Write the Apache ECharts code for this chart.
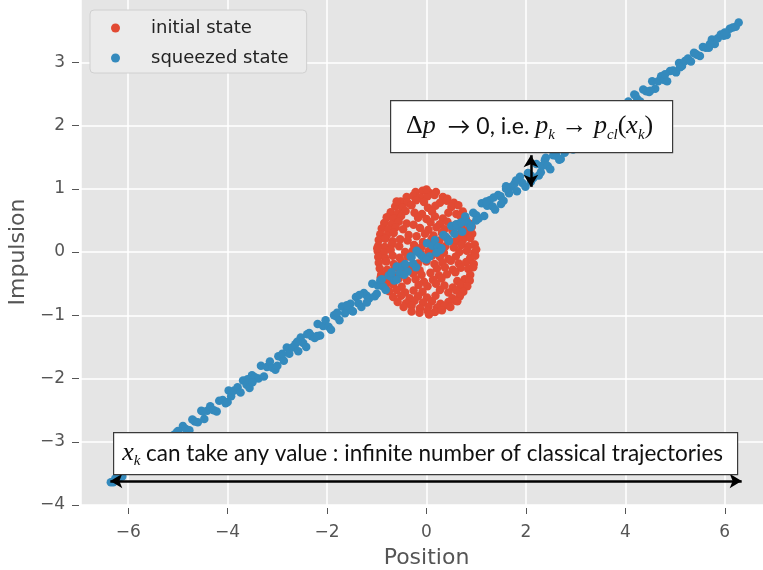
<!DOCTYPE html>
<html>
<head>
    <meta charset="utf-8" />
    <title>squeezed state</title>
    <script src="https://cdn.jsdelivr.net/npm/echarts@6.0.0/dist/echarts.min.js"></script>
    <style>
        html, body { margin: 0; padding: 0; background: #fff; }
        #main { width: 763px; height: 570px; }
    </style>
</head>
<body>
<div id="main"></div>
<script>
    // tick labels
    var xTicks = [-6, -4, -2, 0, 2, 4, 6];
    var yTicks = [-4, -3, -2, -1, 0, 1, 2, 3];

    // initial state: points in the unit disc
    var initialState = [
        [-0.22,0.95],[-0.08,0.97],[0.05,0.94],[0.19,0.95],
        [-0.40,0.87],[-0.27,0.89],[-0.12,0.86],[0.02,0.88],[0.16,0.90],[0.33,0.87],[0.42,0.84],
        [-0.52,0.80],[-0.38,0.78],[-0.21,0.82],[-0.05,0.79],[0.27,0.78],[0.41,0.81],[0.55,0.78],
        [-0.63,0.72],[-0.49,0.70],[-0.30,0.74],[0.03,0.70],[0.18,0.73],[0.50,0.71],[0.64,0.74],
        [-0.72,0.63],[-0.58,0.61],[-0.42,0.65],[-0.24,0.62],[-0.09,0.60],[0.11,0.64],[0.44,0.62],[0.60,0.60],[0.73,0.64],
        [-0.80,0.55],[-0.66,0.53],[-0.51,0.57],[-0.17,0.54],[0.00,0.52],[0.17,0.56],[0.33,0.53],[0.68,0.57],[0.79,0.52],
        [-0.85,0.46],[-0.71,0.44],[-0.56,0.48],[-0.40,0.45],[-0.26,0.43],[0.08,0.47],[0.27,0.44],[0.42,0.48],[0.59,0.43],[0.74,0.46],[0.86,0.45],
        [-0.90,0.37],[-0.77,0.35],[-0.62,0.39],[-0.47,0.36],[-0.13,0.38],[0.04,0.35],[0.20,0.39],[0.36,0.36],[0.52,0.34],[0.70,0.38],[0.85,0.36],
        [-0.93,0.28],[-0.80,0.26],[-0.66,0.30],[-0.36,0.27],[-0.20,0.25],[-0.03,0.29],[0.14,0.26],[0.31,0.30],[0.63,0.27],[0.79,0.25],[0.92,0.29],
        [-0.96,0.19],[-0.83,0.21],[-0.68,0.17],[-0.53,0.20],[-0.38,0.18],[-0.07,0.16],[0.10,0.20],[0.26,0.18],[0.42,0.21],[0.58,0.17],[0.73,0.19],[0.88,0.22],
        [-0.97,0.10],[-0.84,0.08],[-0.70,0.12],[-0.55,0.09],[-0.25,0.11],[-0.10,0.08],[0.07,0.12],[0.38,0.09],[0.55,0.07],[0.70,0.11],[0.84,0.09],[0.97,0.12],
        [-0.98,0.01],[-0.86,-0.01],[-0.72,0.03],[-0.43,0.00],[-0.28,0.02],[-0.12,-0.02],[0.04,0.01],[0.19,0.03],[0.35,-0.01],[0.66,0.00],[0.81,0.02],[0.96,-0.01],
        [-0.97,-0.08],[-0.83,-0.10],[-0.68,-0.06],[-0.54,-0.09],[-0.38,-0.07],[-0.05,-0.10],[0.11,-0.06],[0.27,-0.08],[0.44,-0.11],[0.59,-0.07],[0.88,-0.09],[0.98,-0.06],
        [-0.96,-0.17],[-0.81,-0.15],[-0.66,-0.19],[-0.50,-0.16],[-0.17,-0.18],[0.00,-0.15],[0.16,-0.19],[0.32,-0.17],[0.49,-0.14],[0.65,-0.18],[0.80,-0.16],[0.95,-0.19],
        [-0.94,-0.26],[-0.79,-0.28],[-0.63,-0.24],[-0.48,-0.27],[-0.31,-0.25],[-0.14,-0.29],[0.21,-0.26],[0.37,-0.24],[0.53,-0.28],[0.69,-0.25],[0.84,-0.27],[0.94,-0.24],
        [-0.91,-0.35],[-0.76,-0.33],[-0.60,-0.37],[-0.27,-0.34],[-0.10,-0.36],[0.08,-0.33],[0.25,-0.37],[0.41,-0.35],[0.58,-0.32],[0.88,-0.36],
        [-0.87,-0.44],[-0.72,-0.46],[-0.56,-0.42],[-0.39,-0.45],[-0.22,-0.43],[-0.05,-0.47],[0.13,-0.44],[0.30,-0.42],[0.62,-0.46],[0.77,-0.43],[0.87,-0.45],
        [-0.82,-0.53],[-0.67,-0.51],[-0.50,-0.55],[-0.16,-0.52],[0.02,-0.54],[0.19,-0.50],[0.36,-0.53],[0.53,-0.56],[0.69,-0.52],[0.82,-0.54],
        [-0.75,-0.62],[-0.60,-0.60],[-0.43,-0.64],[-0.26,-0.61],[-0.08,-0.63],[0.27,-0.60],[0.44,-0.64],[0.60,-0.61],[0.74,-0.63],
        [-0.67,-0.71],[-0.51,-0.69],[-0.34,-0.73],[-0.17,-0.70],[0.01,-0.72],[0.18,-0.69],[0.52,-0.73],[0.67,-0.70],
        [-0.58,-0.79],[-0.41,-0.81],[-0.24,-0.77],[-0.07,-0.80],[0.11,-0.78],[0.28,-0.82],[0.44,-0.79],[0.58,-0.77],
        [-0.46,-0.87],[-0.30,-0.85],[-0.13,-0.89],[0.04,-0.86],[0.21,-0.88],[0.36,-0.85],[0.48,-0.87],
        [-0.30,-0.94],[-0.14,-0.96],[0.02,-0.93],[0.17,-0.95],[0.31,-0.92],
        [-0.99,0.06],[1.00,0.04],[-0.92,-0.40],[0.91,0.40],[-0.60,0.80],[0.62,-0.78],[0.00,0.99],[0.05,-0.99]
    ];

    // squeezed state: thin band along the diagonal
    var squeezedState = [
        [-6.35,-3.64],[-6.30,-3.64],[-6.26,-3.58],[-6.18,-3.56],[-6.12,-3.55],[-6.05,-3.45],[-5.97,-3.43],
        [-5.90,-3.42],[-5.84,-3.31],[-5.76,-3.36],[-5.70,-3.26],[-5.63,-3.19],[-5.55,-3.22],[-5.49,-3.22],
        [-5.42,-3.08],[-5.36,-3.07],[-5.28,-3.08],[-5.21,-2.93],[-5.15,-2.98],[-5.08,-2.89],[-5.02,-2.85],
        [-4.95,-2.90],[-4.90,-2.75],[-4.84,-2.80],[-4.77,-2.82],[-4.71,-2.65],[-4.66,-2.68],[-4.60,-2.69],
        [-4.53,-2.51],[-4.47,-2.64],[-4.41,-2.51],[-4.35,-2.44],[-4.28,-2.50],[-4.22,-2.52],[-4.17,-2.35],
        [-4.10,-2.34],[-4.04,-2.39],[-3.98,-2.19],[-3.93,-2.28],[-3.87,-2.19],[-3.80,-2.14],[-3.74,-2.22],
        [-3.69,-2.03],[-3.62,-2.10],[-3.56,-2.15],[-3.51,-1.95],[-3.45,-1.98],[-3.38,-2.00],[-3.33,-1.80],
        [-3.27,-1.97],[-3.21,-1.82],[-3.15,-1.73],[-3.10,-1.83],[-3.04,-1.86],[-2.98,-1.65],[-2.92,-1.66],
        [-2.87,-1.72],[-2.81,-1.51],[-2.76,-1.61],[-2.70,-1.51],[-2.64,-1.46],[-2.58,-1.57],[-2.53,-1.35],
        [-2.48,-1.44],[-2.42,-1.50],[-2.36,-1.28],[-2.31,-1.33],[-2.25,-1.36],[-2.19,-1.14],[-2.14,-1.32],
        [-2.08,-1.17],[-2.03,-1.08],[-1.97,-1.18],[-1.92,-1.23],[-1.86,-1.00],[-1.81,-1.02],[-1.75,-1.08],
        [-1.70,-0.86],[-1.64,-0.97],[-1.59,-0.87],[-1.53,-0.82],[-1.48,-0.94],[-1.42,-0.71],[-1.37,-0.81],
        [-1.31,-0.87],[-1.26,-0.65],[-1.20,-0.69],[-1.15,-0.73],[-1.09,-0.50],[-1.04,-0.70],[-0.98,-0.53],
        [-0.93,-0.45],[-0.87,-0.55],[-0.82,-0.60],[-0.76,-0.37],[-0.71,-0.39],[-0.65,-0.45],[-0.60,-0.23],
        [-0.54,-0.34],[-0.49,-0.23],[-0.43,-0.19],[-0.38,-0.31],[-0.32,-0.07],[-0.27,-0.18],[-0.21,-0.24],
        [-0.16,-0.01],[-0.10,-0.06],[-0.05,-0.10],[0.01,0.14],[0.06,-0.07],[0.12,0.10],[0.17,0.19],
        [0.23,0.08],[0.28,0.03],[0.34,0.27],[0.39,0.24],[0.45,0.18],[0.50,0.41],[0.56,0.29],[0.61,0.40],
        [0.67,0.45],[0.72,0.32],[0.78,0.56],[0.83,0.46],[0.89,0.39],[0.94,0.62],[1.00,0.58],[1.05,0.53],
        [1.11,0.77],[1.16,0.57],[1.22,0.73],[1.27,0.82],[1.33,0.72],[1.38,0.67],[1.44,0.90],[1.49,0.88],
        [1.55,0.81],[1.60,1.04],[1.66,0.93],[1.71,1.03],[1.77,1.08],[1.82,0.96],[1.88,1.19],[1.93,1.09],
        [1.99,1.03],[2.04,1.25],[2.10,1.21],[2.15,1.17],[2.21,1.39],[2.26,1.21],[2.32,1.36],[2.38,1.45],
        [2.44,1.36],[2.49,1.31],[2.55,1.53],[2.61,1.52],[2.67,1.46],[2.72,1.67],[2.78,1.57],[2.84,1.68],
        [2.90,1.72],[2.95,1.62],[3.01,1.83],[3.07,1.75],[3.13,1.70],[3.18,1.90],[3.24,1.86],[3.30,1.84],
        [3.36,2.04],[3.41,1.88],[3.47,2.02],[3.53,2.10],[3.59,2.02],[3.65,1.99],[3.71,2.19],[3.76,2.18],
        [3.82,2.13],[3.88,2.33],[3.94,2.24],[4.00,2.34],[4.06,2.38],[4.12,2.30],[4.18,2.49],[4.24,2.42],
        [4.30,2.38],[4.36,2.57],[4.42,2.54],[4.48,2.53],[4.54,2.70],[4.60,2.58],[4.66,2.70],[4.72,2.78],
        [4.78,2.72],[4.84,2.70],[4.90,2.86],[4.96,2.87],[5.02,2.84],[5.08,2.99],[5.14,2.94],[5.20,3.02],
        [5.26,3.06],[5.32,3.01],[5.38,3.15],[5.44,3.12],[5.50,3.10],[5.56,3.24],[5.62,3.23],[5.68,3.23],
        [5.74,3.36],[5.80,3.29],[5.86,3.38],[5.92,3.44],[5.98,3.42],[6.04,3.43],[6.10,3.53],[6.16,3.55],
        [6.22,3.56],[6.28,3.63],
        [-5.60,-3.24],[-5.00,-2.83],[-4.50,-2.52],[-4.00,-2.37],[-3.60,-2.01],[-3.00,-1.80],[-2.60,-1.42],
        [-2.20,-1.33],[-1.80,-0.96],[-1.50,-0.93],[-1.20,-0.80],[-0.90,-0.43],[-0.60,-0.44],[-0.30,-0.08],
        [0.00,-0.12],[0.30,0.06],[0.60,0.44],[0.90,0.41],[1.20,0.80],[1.50,0.76],[1.80,1.13],[2.10,1.11],
        [2.40,1.49],[2.70,1.47],[3.00,1.81],[3.30,1.81],[3.60,2.15],[3.90,2.16],[4.20,2.48],[4.50,2.55],
        [4.80,2.81],[5.10,2.92],[5.40,3.14],[5.70,3.29],[6.00,3.47],[-0.45,-0.36],[0.45,0.17],[1.35,0.86],
        [-1.35,-0.68],[2.60,1.58],[-2.90,-1.61],[3.45,1.95],[-3.50,-2.06],
        [-0.20,0.02],[0.20,-0.01],[-0.70,-0.32],[0.70,0.47],[-1.00,-0.66],[1.00,0.50],[-1.60,-0.84],
        [1.60,1.00],[-2.40,-1.30],[2.30,1.26]
    ];

    // double arrows (data coordinates)
    var arrowDp = [[2.10, 1.53], [2.10, 1.03]];
    var arrowX = [[-6.36, -3.62], [6.34, -3.62]];

    var myChart = echarts.init(document.getElementById('main'));

    function minus(v) {
        return String(v).replace('-', '\u2212');
    }

    var tickColor = '#555555';

    var option = {
        animation: false,
        backgroundColor: '#ffffff',
        grid: {
            left: 81,
            right: -9,
            top: -1,
            bottom: 65,
            outerBoundsMode: 'none',
            show: true,
            backgroundColor: '#e5e5e5',
            borderWidth: 0
        },
        legend: {
            orient: 'vertical',
            left: 90,
            top: 10,
            data: ['initial state', 'squeezed state'],
            icon: 'circle',
            itemWidth: 9,
            itemHeight: 9,
            itemGap: 10,
            padding: [8, 18, 5, 21],
            backgroundColor: '#ebebeb',
            borderColor: '#d0d0d0',
            borderWidth: 1,
            borderRadius: 4,
            textStyle: {
                fontFamily: 'DejaVu Sans',
                fontSize: 18,
                lineHeight: 20,
                color: '#222',
                padding: [0, 0, 0, 26]
            }
        },
        xAxis: {
            type: 'value',
            min: -6.95,
            max: 6.95,
            splitNumber: xTicks.length,
            offset: 3,
            name: 'Position',
            nameLocation: 'middle',
            nameGap: 39,
            nameTextStyle: { fontFamily: 'DejaVu Sans', fontSize: 22, color: tickColor },
            axisLine: { show: false, onZero: false },
            axisTick: { show: true, length: 6, lineStyle: { color: tickColor } },
            axisLabel: {
                showMinLabel: false,
                showMaxLabel: false,
                fontFamily: 'DejaVu Sans', fontSize: 17, color: tickColor, margin: 16,
                formatter: minus
            },
            splitLine: { show: true, lineStyle: { color: '#ffffff', width: 1.5 } }
        },
        yAxis: {
            type: 'value',
            min: yTicks[0],
            max: 4,
            interval: 1,
            offset: 2,
            name: 'Impulsion',
            nameLocation: 'middle',
            nameGap: 40,
            nameTextStyle: { fontFamily: 'DejaVu Sans', fontSize: 22, color: tickColor },
            axisLine: { show: false, onZero: false },
            axisTick: { show: true, length: 7, lineStyle: { color: tickColor } },
            axisLabel: {
                showMaxLabel: false,
                fontFamily: 'DejaVu Sans', fontSize: 17, color: tickColor, margin: 14,
                formatter: minus
            },
            splitLine: { show: true, lineStyle: { color: '#ffffff', width: 1.5 } }
        },
        series: [
            {
                name: 'initial state',
                type: 'scatter',
                data: initialState,
                symbolSize: 8.5,
                itemStyle: { color: '#E24A33', opacity: 1 }
            },
            {
                name: 'squeezed state',
                type: 'scatter',
                data: squeezedState,
                symbolSize: 8.5,
                itemStyle: { color: '#348ABD', opacity: 1 },
                markLine: {
                    silent: true,
                    symbol: ['arrow', 'arrow'],
                    symbolSize: [11, 12],
                    label: { show: false },
                    lineStyle: { color: '#000', width: 2.5, type: 'solid' },
                    data: [
                        [{ coord: arrowDp[0] }, { coord: arrowDp[1] }],
                        [{ coord: arrowX[0] }, { coord: arrowX[1] }]
                    ]
                }
            }
        ],
        graphic: [
            {
                type: 'group',
                left: 390,
                top: 100,
                z: 100,
                children: [
                    {
                        type: 'rect',
                        z: 100,
                        shape: { x: 0, y: 0, width: 282, height: 52 },
                        style: { fill: '#fff', stroke: '#3a3a3a', lineWidth: 1.2 }
                    },
                    {
                        type: 'text',
                        z: 101,
                        x: 139,
                        y: 26,
                        style: {
                            text: '{a|\u0394}{m|p}{n|  \u2192 0, i.e. }{m|p}{s|k}{a| \u2192 }{m|p}{s|cl}{a|(}{m|x}{s|k}{a|)}',
                            align: 'center',
                            verticalAlign: 'middle',
                            rich: {
                                m: { fontFamily: 'Liberation Serif', fontStyle: 'italic', fontSize: 26, lineHeight: 32, fill: '#111' },
                                a: { fontFamily: 'Liberation Serif', fontSize: 26, lineHeight: 32, fill: '#111' },
                                n: { fontFamily: 'Lato', fontSize: 23, lineHeight: 32, fill: '#111' },
                                s: { fontFamily: 'Liberation Serif', fontStyle: 'italic', fontSize: 15, lineHeight: 30, verticalAlign: 'bottom', fill: '#111' }
                            }
                        }
                    }
                ]
            },
            {
                type: 'group',
                left: 113,
                top: 432,
                z: 100,
                children: [
                    {
                        type: 'rect',
                        z: 100,
                        shape: { x: 0, y: 0, width: 624, height: 42 },
                        style: { fill: '#fff', stroke: '#3a3a3a', lineWidth: 1.2 }
                    },
                    {
                        type: 'text',
                        z: 101,
                        x: 309,
                        y: 21,
                        style: {
                            text: '{m|x}{s|k}{n| can take any value : infinite number of classical trajectories}',
                            align: 'center',
                            verticalAlign: 'middle',
                            rich: {
                                m: { fontFamily: 'Liberation Serif', fontStyle: 'italic', fontSize: 26, lineHeight: 30, fill: '#111' },
                                s: { fontFamily: 'Liberation Serif', fontStyle: 'italic', fontSize: 15, lineHeight: 28, verticalAlign: 'bottom', fill: '#111' },
                                n: { fontFamily: 'Lato', fontSize: 22.5, lineHeight: 30, fill: '#111' }
                            }
                        }
                    }
                ]
            }
        ]
    };

    myChart.setOption(option);
</script>
</body>
</html>
